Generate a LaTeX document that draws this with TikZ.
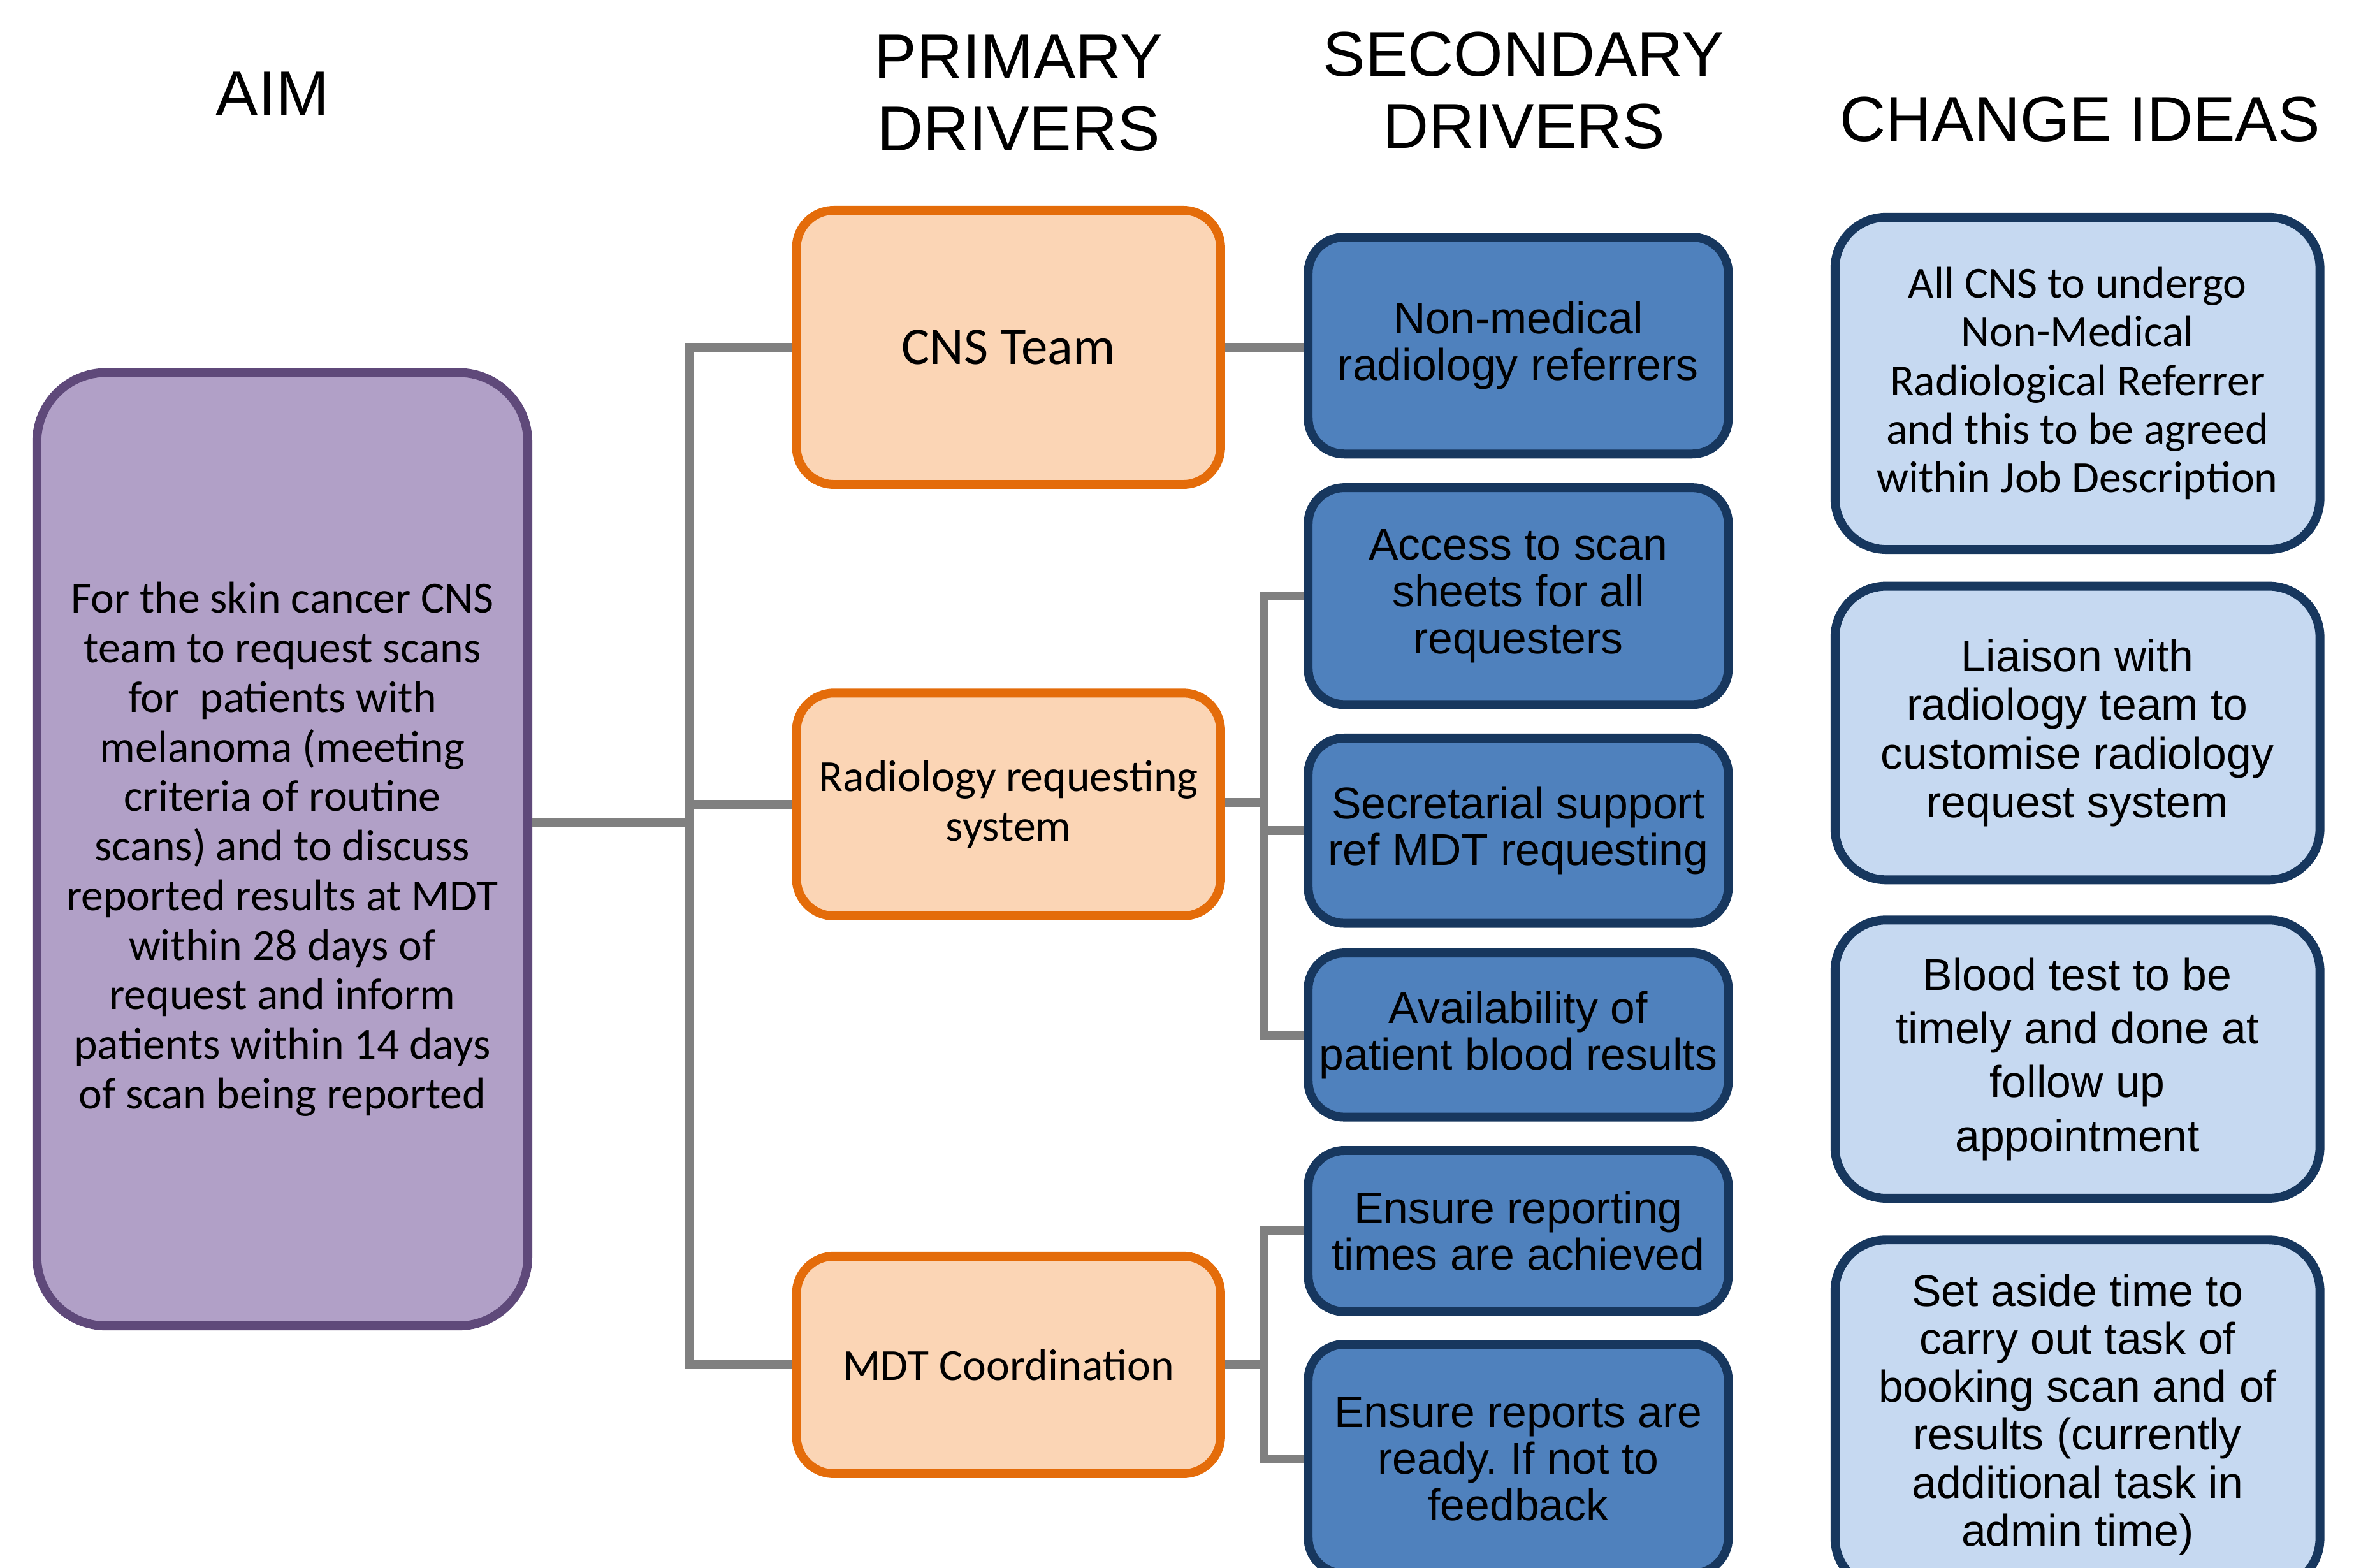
\documentclass[tikz,border=0pt]{standalone}
\usepackage{fontspec}
\setmainfont{Liberation Sans}
\newfontfamily\calibri{Carlito}
\frenchspacing
\definecolor{aimfill}{HTML}{B1A0C7}
\definecolor{aimline}{HTML}{5F497A}
\definecolor{primfill}{HTML}{FBD5B5}
\definecolor{primline}{HTML}{E46C0A}
\definecolor{secfill}{HTML}{4F81BD}
\definecolor{darkline}{HTML}{17375E}
\definecolor{ideafill}{HTML}{C6D9F1}
\definecolor{linkgray}{HTML}{808080}

\begin{document}
\begin{tikzpicture}[x=0.025cm,y=-0.025cm,
  head/.style={align=center,inner sep=0pt,font=\fontsize{30}{34}\selectfont},
  box/.style={rectangle,rounded corners=#1,line width=4.2pt,inner sep=0pt,align=center,text=black},
  aimbox/.style={box=1.15cm,draw=aimline,fill=aimfill,font=\calibri\fontsize{21}{23.4}\selectfont},
  primbox/.style={box=0.62cm,draw=primline,fill=primfill,minimum width=7.04cm,font=\calibri\fontsize{21}{23.5}\selectfont},
  secbox/.style={box=0.6cm,draw=darkline,fill=secfill,minimum width=6.975cm,font=\fontsize{21}{22}\selectfont},
  ideabox/.style={box=0.85cm,draw=darkline,fill=ideafill,minimum width=8.05cm,font=\fontsize{21}{23}\selectfont},
  link/.style={draw=linkgray,line width=4.2pt}]
  \path[use as bounding box] (0,0) rectangle (1568,1041);
  \clip (0,0) rectangle (1568,1041);

  % column headings
  \node[head] (haim) at (181,62.4) {AIM};
  \node[head] (hpri) at (676.5,61.8) {PRIMARY\\DRIVERS};
  \node[head] (hsec) at (1012,60) {SECONDARY\\DRIVERS};
  \node[head] (hchg) at (1381.5,79.3) {CHANGE IDEAS};

  % aim
  \node[aimbox,minimum width=8.15cm,minimum height=15.825cm] (aim) at (187.5,564)
    {For the skin cancer CNS\\team to request scans\\for\ \ patients with\\melanoma (meeting\\criteria of routine\\scans) and to discuss\\reported results at MDT\\within 28 days of\\request and inform\\patients within 14 days\\of scan being reported};

  % primary drivers
  \node[primbox,minimum height=4.55cm,font=\calibri\fontsize{25}{28}\selectfont] (cns) at (669.8,230.7) {CNS Team};
  \node[primbox,minimum height=3.7cm] (rad) at (669.8,534.3) {Radiology requesting\\system};
  \node[primbox,minimum height=3.61cm] (mdt) at (669.8,906.5) {MDT Coordination};

  % secondary drivers
  \node[secbox,minimum height=3.6cm] (nonmed) at (1008.3,229.5) {Non-medical\\radiology referrers};
  \node[secbox,minimum height=3.6cm] (access) at (1008.3,395.9) {Access to scan\\sheets for all\\requesters};
  \node[secbox,minimum height=3.075cm] (secr) at (1008.3,551.7) {Secretarial support\\ref MDT requesting};
  \node[secbox,minimum height=2.725cm] (avail) at (1008.3,687.4) {Availability of\\patient blood results};
  \node[secbox,minimum height=2.675cm] (ensrep) at (1008.3,817.6) {Ensure reporting\\times are achieved};
  \node[secbox,minimum height=3.81cm] (ensready) at (1008.3,969) {Ensure reports are\\ready. If not to\\feedback};

  % change ideas
  \node[ideabox,minimum height=5.515cm,font=\calibri\fontsize{21}{23}\selectfont] (idea1) at (1379.7,254.6)
    {All CNS to undergo\\Non-Medical\\Radiological Referrer\\and this to be agreed\\within Job Description};
  \node[ideabox,minimum height=4.875cm] (idea2) at (1379.7,486.8)
    {Liaison with\\radiology team to\\customise radiology\\request system};
  \node[ideabox,minimum height=4.62cm,font=\fontsize{21}{25.4}\selectfont] (idea3) at (1379.7,703.4)
    {Blood test to be\\timely and done at\\follow up\\appointment};
  \node[ideabox,minimum height=5.8cm,font=\fontsize{21}{22.6}\selectfont] (idea4) at (1379.7,939.5)
    {Set aside time to\\carry out task of\\booking scan and of\\results (currently\\additional task in\\admin time)};

  % connectors
  \coordinate (j0) at (458,546);
  \coordinate (j1) at (839.5,533);
  \coordinate (j2) at (839.5,906.5);
  \draw[link] (aim.east |- j0) -- (j0);
  \draw[link] (cns.west) -| (j0) |- (mdt.west);
  \draw[link] (rad.west) -- (rad.west -| j0);
  \draw[link] (cns.east) -- (cns.east -| nonmed.west);
  \draw[link] (rad.east |- j1) -- (j1);
  \draw[link] (access.west) -| (j1) |- (avail.west);
  \draw[link] (secr.west) -- (secr.west -| j1);
  \draw[link] (mdt.east) -- (j2);
  \draw[link] (ensrep.west) -| (j2) |- (ensready.west);
\end{tikzpicture}
\end{document}
